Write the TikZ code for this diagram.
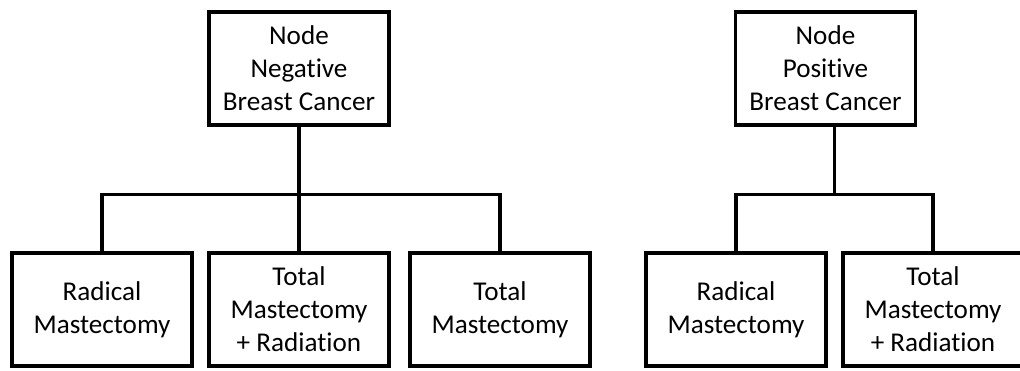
\documentclass[tikz,border=0pt]{standalone}
\usepackage{fontspec}
\setmainfont{Carlito}[Ligatures=NoCommon]
\begin{document}
\begin{tikzpicture}[
  x=0.025cm, y=0.025cm,
  box/.style={draw, line width=2.2pt, align=center, minimum width=4.5cm, minimum height=2.825cm, inner sep=2pt, font=\fontsize{19.3}{23.5}\selectfont},
  link/.style={line width=2.2pt}
]
\useasboundingbox (0,0) rectangle (1020,370);
\node[box] (neg) at (299,301.5) {Node\\ Negative\\ Breast Cancer};
\node[box] (pos) at (825.5,301.5) {Node\\ Positive\\ Breast Cancer};
\node[box] (rad) at (102,60.5) {Radical\\ Mastectomy};
\node[box] (totrad) at (299,60.5) {Total\\ Mastectomy\\ + Radiation};
\node[box] (tot) at (500,60.5) {Total\\ Mastectomy};
\node[box] (posrad) at (736,60.5) {Radical\\ Mastectomy};
\node[box] (postotrad) at (933,60.5) {Total\\ Mastectomy\\ + Radiation};

\draw[link] (neg.south) -- ++(0,-68) -| (rad.north);
\draw[link] (neg.south) -- (totrad.north);
\draw[link] (neg.south) -- ++(0,-68) -| (tot.north);
\draw[link] ([xshift=0.225cm]pos.south) -- ++(0,-68) -| (posrad.north);
\draw[link] ([xshift=0.225cm]pos.south) -- ++(0,-68) -| (postotrad.north);
\end{tikzpicture}
\end{document}
